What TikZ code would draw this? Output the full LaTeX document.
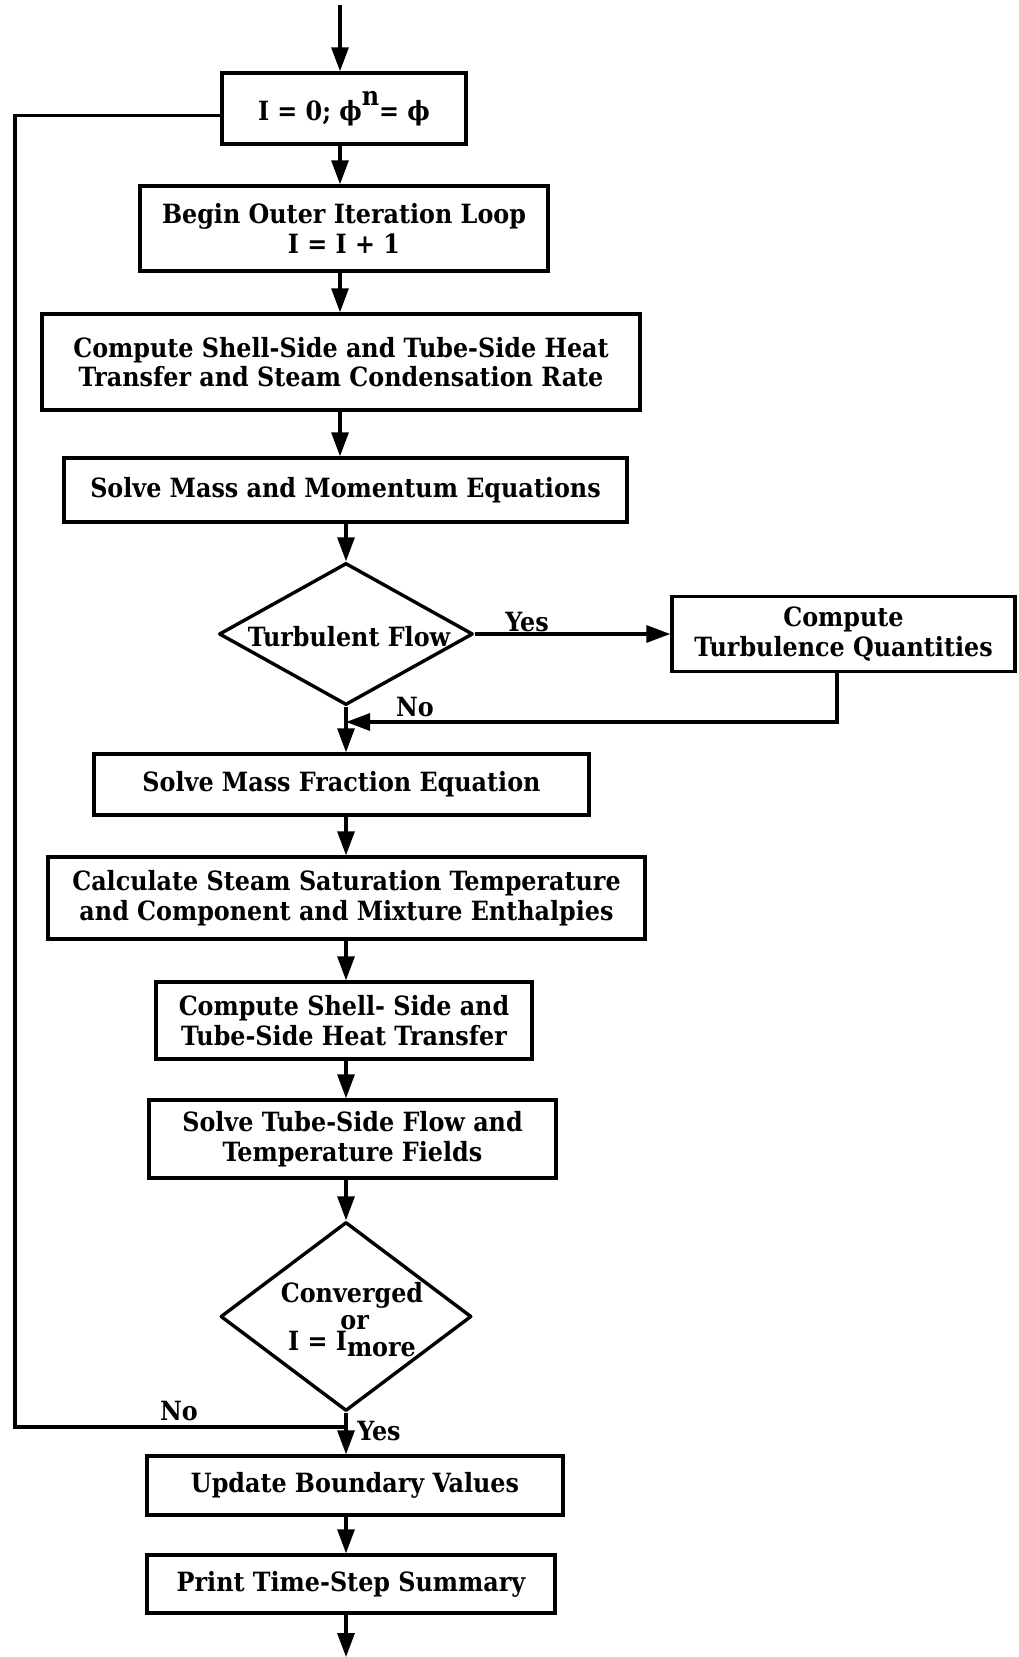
\documentclass[tikz,border=0pt]{standalone}
\usepackage{fontspec}
\newfontfamily\flowfamily{DejaVu Serif Condensed}
\usetikzlibrary{arrows.meta,shapes.geometric}
\newcommand{\flowfont}{\flowfamily\bfseries\fontsize{26.5}{29.5}\selectfont}
\tikzset{
  x=1pt, y=1pt,
  proc/.style={draw, line width=3.4pt, inner sep=0pt, align=center, font=\flowfont},
  decision/.style={draw, diamond, line width=3.4pt, inner sep=0pt, line join=round},
  dtext/.style={inner sep=0pt, align=center, font=\flowfont},
  conn/.style={line width=3.1pt, -{Triangle[length=24pt,width=17pt]}},
  plainline/.style={line width=3.1pt},
  lbl/.style={inner sep=0pt, font=\flowfont},
}
\begin{document}
\begin{tikzpicture}
\useasboundingbox (0,0) rectangle (1018,-1657);

% process boxes and decisions
\node[proc, minimum width=244pt, minimum height=71pt] (b1) at (344,-108.5)
  {I = 0; ϕ\raisebox{0.55em}{n}= ϕ};
\node[proc, minimum width=408pt, minimum height=85pt] (b2) at (344,-228.5)
  {Begin Outer Iteration Loop\\ I = I + 1};
\node[proc, minimum width=598pt, minimum height=96pt] (b3) at (341,-362)
  {Compute Shell-Side and Tube-Side Heat\\ Transfer and Steam Condensation Rate};
\node[proc, minimum width=563pt, minimum height=64pt] (b4) at (345.5,-490)
  {Solve Mass and Momentum Equations};
\node[decision, minimum width=254pt, minimum height=142pt] (d1) at (346,-634) {};
\node[dtext] (d1t) at (349,-637) {Turbulent Flow};
\node[proc, minimum width=343pt, minimum height=75pt] (b5) at (843.5,-634)
  {Compute\\ Turbulence Quantities};
\node[proc, minimum width=495pt, minimum height=61pt] (b6) at (341.5,-784.5)
  {Solve Mass Fraction Equation};
\node[proc, minimum width=597pt, minimum height=82pt] (b7) at (346.5,-898)
  {Calculate Steam Saturation Temperature\\ and Component and Mixture Enthalpies};
\node[proc, minimum width=376pt, minimum height=77pt] (b8) at (344,-1020.5)
  {Compute Shell- Side and\\ Tube-Side Heat Transfer};
\node[proc, minimum width=407pt, minimum height=78pt] (b9) at (352.5,-1139)
  {Solve Tube-Side Flow and\\ Temperature Fields};
\node[decision, minimum width=251pt, minimum height=189pt] (d2) at (346,-1316.5) {};
\node[dtext, anchor=base] (d2t) at (352,-1302) {Converged};
\node[dtext, anchor=base] (d2u) at (352,-1350)
  {I = I\raisebox{-0.26em}{\makebox[0pt][l]{\kern-0.25em\raisebox{1.04em}{or}}more}};
\node[proc, minimum width=416pt, minimum height=59pt] (b10) at (355,-1485.5)
  {Update Boundary Values};
\node[proc, minimum width=408pt, minimum height=58pt] (b11) at (351,-1584)
  {Print Time-Step Summary};

% spine positions and corner points of the connectors
\coordinate (sa) at (340,0);
\coordinate (sb) at (346,0);
\coordinate (top) at (340,-5);
\coordinate (bot) at (346,-1657);
\coordinate (ret) at (837,-722);
\coordinate (nojoin) at (346,-1427);
\coordinate (lx) at (15,0);
\coordinate (loopin) at ([yshift=-7pt]b1.west);

% main flow
\draw[conn] (top) -- (b1.north -| top);
\draw[conn] (b1.south -| sa) -- (b2.north -| sa);
\draw[conn] (b2.south -| sa) -- (b3.north -| sa);
\draw[conn] (b3.south -| sa) -- (b4.north -| sa);
\draw[conn] (b4.south -| sb) -- (d1.north);
\draw[conn] (d1.south) -- (b6.north -| d1.south);
\draw[conn] (b6.south -| sb) -- (b7.north -| sb);
\draw[conn] (b7.south -| sb) -- (b8.north -| sb);
\draw[conn] (b8.south -| sb) -- (b9.north -| sb);
\draw[conn] (b9.south -| sb) -- (d2.north);
\draw[conn] (d2.south) -- (b10.north -| d2.south);
\draw[conn] (b10.south -| sb) -- (b11.north -| sb);
\draw[conn] (b11.south -| bot) -- (bot);

% turbulence branch
\draw[conn] (d1.east) -- (b5.west);
\draw[conn] (b5.south -| ret) -- (ret) -- (ret -| d1.south);
\node[lbl, anchor=base] (yes1) at (527,-631) {Yes};
\node[lbl, anchor=base] (no1) at (415,-716) {No};

% outer iteration loop back
\draw[plainline] (nojoin) -- (nojoin -| lx) -- (lx |- loopin) -- (loopin);
\node[lbl, anchor=base] (no2) at (179,-1420) {No};
\node[lbl, anchor=base] (yes2) at (379,-1440) {Yes};
\end{tikzpicture}
\end{document}
